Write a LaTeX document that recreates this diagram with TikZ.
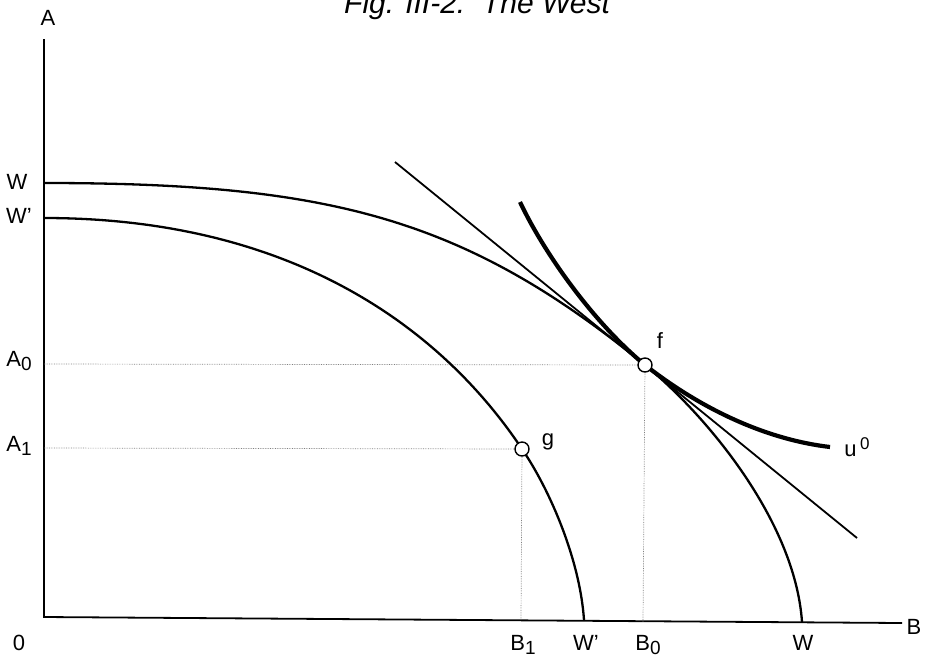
\documentclass[tikz,border=0pt]{standalone}
\usepackage{fontspec}
\setmainfont{Liberation Sans}
\newcommand{\lowsub}[1]{\raisebox{-0.4ex}{\fontsize{19}{21}\selectfont #1}}
\begin{document}
\begin{tikzpicture}[x=1pt,y=-1pt,
  lbl/.style={font=\fontsize{22}{24}\selectfont, inner sep=0pt},
  axis/.style={line width=1.8pt},
  curve/.style={line width=2.3pt},
  thick curve/.style={line width=4.2pt},
  guide/.style={densely dotted, line width=0.7pt, gray},
  pt/.style={circle, draw, line width=1.4pt, fill=white, minimum size=14pt, inner sep=0pt}
]
\useasboundingbox (0,0) rectangle (925,662);
\clip (0,0) rectangle (925,662);
% title (clipped at top, as in the reference)
\node[font=\fontsize{30}{32}\selectfont\itshape, anchor=base, inner sep=0pt] (title) at (477,13) {Fig. III-2.\ \ The West};
% axes
\coordinate (O) at (44,617);
\coordinate (Atop) at (44,39);
\coordinate (Bend) at (902,623);
\draw[axis] (Atop) -- (O) -- (Bend);
% coordinates
\coordinate (W0) at (44,183);
\coordinate (Wp0) at (44,218);
\coordinate (WB) at (802,622);
\coordinate (WpB) at (584,620);
\coordinate (fp) at (645,365);
\coordinate (gp) at (522,449);
\coordinate (A0) at (44,364);
\coordinate (A1) at (44,448);
\coordinate (B0) at (643,622);
\coordinate (B1) at (521,620);
% guides
\draw[guide] (A0) -- (fp) -- (B0);
\draw[guide] (A1) -- (gp) -- (B1);
% outer frontier W
\draw[curve] (W0) .. controls (330,183) and (465,218) .. (fp)
  .. controls (705,414) and (795,520) .. (WB);
% inner frontier W'
\draw[curve] (Wp0) .. controls (290,218) and (440,326) .. (gp)
  .. controls (550,490) and (580,560) .. (WpB);
% tangent line
\coordinate (T1) at (395,162);
\coordinate (T2) at (857,538);
\draw[curve, line width=1.8pt] (T1) -- (T2);
% indifference curve u0
\draw[thick curve] (520,202) .. controls (545,255) and (595,324) .. (fp)
  .. controls (705,412) and (770,440) .. (830,447);
% points
\node[pt] (f) at (fp) {};
\node[pt] (g) at (gp) {};
% labels
\node[lbl] (lA) at (48,18) {A};
\node[lbl] (lW) at (17,182) {W};
\node[lbl] (lWp) at (19,216) {W’};
\node[lbl] (lA0) at (19,361) {A\lowsub{0}};
\node[lbl] (lA1) at (19,446) {A\lowsub{1}};
\node[lbl] (l0) at (19,643) {0};
\node[lbl] (lB1) at (523,645) {B\lowsub{1}};
\node[lbl] (lWpB) at (586,643) {W’};
\node[lbl] (lB0) at (648,645) {B\lowsub{0}};
\node[lbl] (lWB) at (803,643) {W};
\node[lbl] (lB) at (914,627) {B};
\node[lbl] (lf) at (660,341) {f};
\node[lbl] (lg) at (548,442) {g};
\node[lbl] (lu) at (857,447) {u\,\raisebox{0.6ex}{\fontsize{17}{19}\selectfont 0}};
\end{tikzpicture}
\end{document}
